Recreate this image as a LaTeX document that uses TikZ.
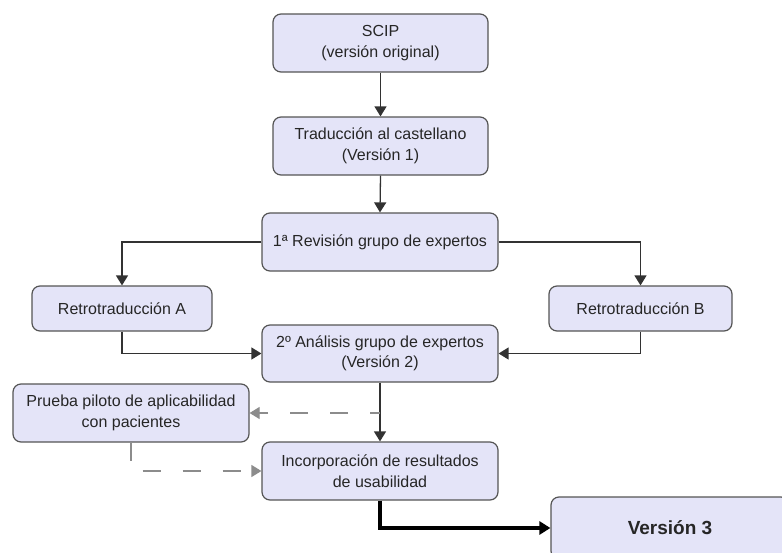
\documentclass[tikz,border=0pt]{standalone}
\usepackage{fontspec}
\setmainfont{Liberation Sans}
\usetikzlibrary{arrows.meta}
\definecolor{boxfill}{RGB}{228,228,248}
\definecolor{boxline}{RGB}{85,85,85}
\definecolor{conn}{RGB}{50,50,50}
\definecolor{dashc}{RGB}{140,140,140}
\tikzset{
  pbox/.style={draw=boxline, line width=1.2pt, fill=boxfill, rounded corners=8pt,
    align=center, inner sep=0pt, font=\fontsize{16}{20.5}\selectfont, text=black!85},
  conarrow/.style={draw=conn, line width=1.3pt, -{Triangle[length=10pt,width=12pt]}},
  dasharrow/.style={draw=dashc, line width=1.2pt, dash pattern=on 18pt off 22pt, -{Triangle[length=10pt,width=12pt]}},
  thickarrow/.style={draw=black, line width=3.5pt, -{Triangle[length=11pt,width=13pt]}}
}
\begin{document}
\begin{tikzpicture}[x=1pt,y=-1pt]
\useasboundingbox (0,0) rectangle (782,552);
\node[pbox, minimum width=215pt, minimum height=58pt] (scip) at (380.5,43) {SCIP\\(versión original)};
\node[pbox, minimum width=215pt, minimum height=58pt] (trad) at (380.5,146) {Traducción al castellano\\(Versión 1)};
\node[pbox, minimum width=236pt, minimum height=58pt] (rev) at (380,242) {1ª Revisión grupo de expertos};
\node[pbox, minimum width=180pt, minimum height=45pt] (retA) at (122,308.5) {Retrotraducción A};
\node[pbox, minimum width=183pt, minimum height=45pt] (retB) at (640.5,308.5) {Retrotraducción B};
\node[pbox, minimum width=236pt, minimum height=57pt] (anal) at (380,353.5) {2º Análisis grupo de expertos\\(Versión 2)};
\node[pbox, minimum width=236pt, minimum height=58pt] (prueba) at (131,413) {Prueba piloto de aplicabilidad\\con pacientes};
\node[pbox, minimum width=236pt, minimum height=58pt] (inc) at (380,471) {Incorporación de resultados\\de usabilidad};
\node[pbox, minimum width=238pt, minimum height=62pt, font=\fontsize{19}{22}\selectfont\bfseries] (v3) at (670,528) {Versión 3};
\draw[conarrow] (scip.south) -- (trad.north);
\draw[conarrow] (trad.south) -- (rev.north);
\draw[conarrow] (rev.west) -| (retA.north);
\draw[conarrow] (rev.east) -| (retB.north);
\draw[conarrow] (retA.south) |- (anal.west);
\draw[conarrow] (retB.south) |- (anal.east);
\draw[conarrow] (anal.south) -- (inc.north);
\coordinate (dstart) at (anal.south |- prueba.east);
\draw[dasharrow, dash phase=8pt] (dstart) -- (prueba.east);
\draw[dasharrow] (prueba.south) |- (inc.west);
\draw[thickarrow] (inc.south) |- (v3.west);
\end{tikzpicture}
\end{document}
